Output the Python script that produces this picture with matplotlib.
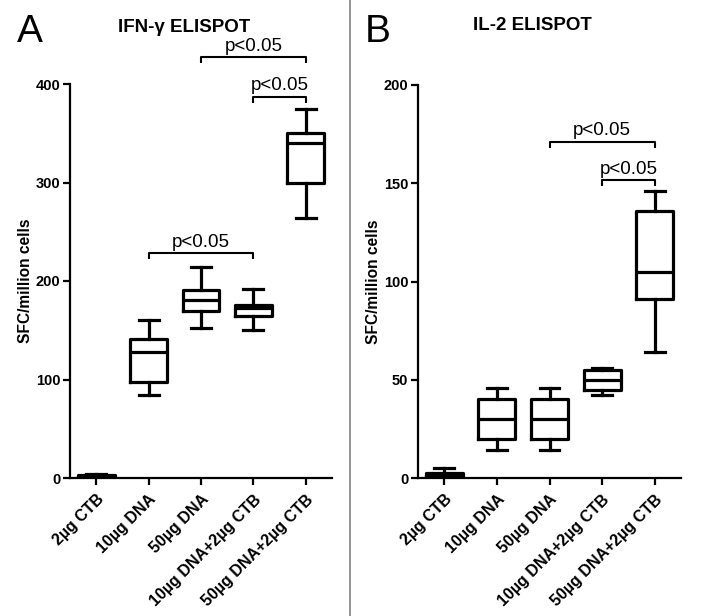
import matplotlib
matplotlib.use("Agg")
import matplotlib.pyplot as plt
from matplotlib.lines import Line2D

plt.rcParams['font.family'] = ['Liberation Sans', 'DejaVu Sans']

categories = ['2µg CTB', '10µg DNA', '50µg DNA', '10µg DNA+2µg CTB', '50µg DNA+2µg CTB']

ifn_min = [0, 84, 152, 150, 264]
ifn_q1 = [1, 97, 170, 164, 300]
ifn_med = [2, 128, 181, 173, 340]
ifn_q3 = [3.5, 141, 191, 176, 350]
ifn_max = [4, 160, 214, 192, 375]

il2_min = [0, 14, 14, 42, 64]
il2_q1 = [1, 20, 20, 45, 91]
il2_med = [2, 30, 30, 50, 105]
il2_q3 = [2.5, 40, 40, 55, 136]
il2_max = [5, 46, 46, 56, 146]

ifn_brackets = [(1, 3, 228), (2, 4, 427), (3, 4, 387)]
il2_brackets = [(2, 4, 171), (3, 4, 151.5)]
sig_label = 'p<0.05'

fig = plt.figure(figsize=(7.16, 6.16), dpi=100)
W, H = 716, 616


def px_axes(l, r, t, b):
    return fig.add_axes([l / W, 1 - b / H, (r - l) / W, (b - t) / H])


def draw_panel(ax, mins, q1s, meds, q3s, maxs, ymax, yticks, brackets, drop):
    stats = []
    for lo, a, m, b, hi, lab in zip(mins, q1s, meds, q3s, maxs, categories):
        stats.append(dict(whislo=lo, q1=a, med=m, q3=b, whishi=hi, label=lab, fliers=[]))
    pos = list(range(len(categories)))
    lw = 2.3
    ax.bxp(stats, positions=pos, widths=0.7, capwidths=0.38, showfliers=False,
           boxprops=dict(color='black', linewidth=lw),
           medianprops=dict(color='black', linewidth=lw),
           whiskerprops=dict(color='black', linewidth=lw),
           capprops=dict(color='black', linewidth=lw))
    ax.set_xlim(-0.5, len(categories) - 0.5)
    ax.set_ylim(0, ymax)
    ax.set_yticks(yticks)
    ax.set_xticks(pos)
    ax.set_xticklabels(categories, rotation=45, ha='right', va='top',
                       rotation_mode='anchor', fontweight='bold', fontsize=11.5)
    for t in ax.get_yticklabels():
        t.set_fontweight('bold')
        t.set_fontsize(10.5)
    for s in ['top', 'right']:
        ax.spines[s].set_visible(False)
    for s in ['left', 'bottom']:
        ax.spines[s].set_linewidth(1.6)
    ax.tick_params(axis='y', direction='out', length=5, width=1.6, pad=2)
    ax.tick_params(axis='x', direction='out', length=5, width=1.6, pad=5)
    ax.set_ylabel('SFC/million cells', fontweight='bold', fontsize=11.2, labelpad=2)
    for x0, x1, y in brackets:
        ax.plot([x0, x0, x1, x1], [y - drop, y, y, y - drop], color='black',
                linewidth=1.5, clip_on=False, solid_capstyle='butt')
        ax.annotate(sig_label, xy=((x0 + x1) / 2, y), xytext=(0, 2),
                    textcoords='offset points', ha='center', va='bottom',
                    fontsize=13.5, annotation_clip=False)
    ax.set_facecolor('none')


axA = px_axes(70, 332, 84, 478)
draw_panel(axA, ifn_min, ifn_q1, ifn_med, ifn_q3, ifn_max, 400, [0, 100, 200, 300, 400],
           ifn_brackets, 6)

axB = px_axes(418, 681, 85, 478)
draw_panel(axB, il2_min, il2_q1, il2_med, il2_q3, il2_max, 200, [0, 50, 100, 150, 200],
           il2_brackets, 3)

fig.text(184 / W, 1 - 27 / H, 'IFN-γ ELISPOT', ha='center', va='center',
         fontweight='bold', fontsize=13.5)
fig.text(532 / W, 1 - 25 / H, 'IL-2 ELISPOT', ha='center', va='center',
         fontweight='bold', fontsize=13.5)
fig.text(30 / W, 1 - 32 / H, 'A', ha='center', va='center', fontsize=28)
fig.text(378 / W, 1 - 32 / H, 'B', ha='center', va='center', fontsize=28)

fig.add_artist(Line2D([349.5 / W, 349.5 / W], [0, 1], color='#808080', linewidth=1.2,
                      transform=fig.transFigure))

fig.savefig('out.png', dpi=100)
